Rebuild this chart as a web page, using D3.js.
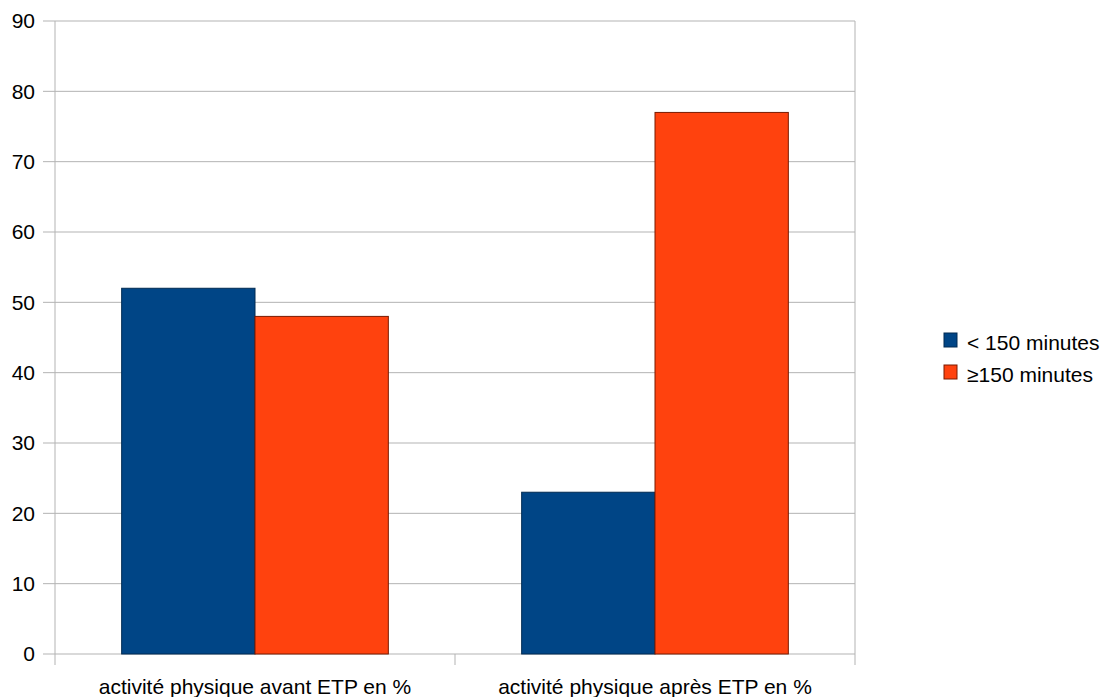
<!DOCTYPE html>
<html>
<head>
<meta charset="utf-8">
<script src="https://cdn.jsdelivr.net/npm/d3@7"></script>
<style>
  body { margin: 0; background: #fff; }
  svg { font-family: "Liberation Sans", Arial, sans-serif; }
</style>
</head>
<body>
<svg id="chart" width="1101" height="697"></svg>
<script>
// données du graphique
const categories = ['activité physique avant ETP en %', 'activité physique après ETP en %'];
const seriesNames = ['< 150 minutes', '≥150 minutes'];
const lessThan150 = [52, 23];
const moreThan150 = [48, 77];
const yTicks = [0, 10, 20, 30, 40, 50, 60, 70, 80, 90];

const colors = ['#004586', '#ff420e'];
const strokes = ['#002a52', '#7a1a00'];

const svg = d3.select('#chart');
const margin = { left: 55, right: 246, top: 21, bottom: 43 };
const width = 1101 - margin.left - margin.right;
const height = 697 - margin.top - margin.bottom;

const g = svg.append('g').attr('transform', `translate(${margin.left},${margin.top})`);

const x0 = d3.scaleBand().domain(categories).range([0, width]).paddingInner(0).paddingOuter(0);
const x1 = d3.scaleBand().domain(seriesNames).range([0, x0.bandwidth()]).paddingInner(0).paddingOuter(0.5);
const y = d3.scaleLinear().domain([0, 90]).range([height, 0]);

// grille
g.append('g').selectAll('line')
  .data(yTicks)
  .join('line')
  .attr('x1', -12).attr('x2', width)
  .attr('y1', d => y(d)).attr('y2', d => y(d))
  .attr('stroke', '#b3b3b3').attr('stroke-width', 1);

// cadre
g.append('line').attr('x1', 0).attr('x2', 0).attr('y1', 0).attr('y2', height + 11)
  .attr('stroke', '#b3b3b3');
g.append('line').attr('x1', width).attr('x2', width).attr('y1', 0).attr('y2', height + 11)
  .attr('stroke', '#b3b3b3');
g.append('line').attr('x1', x0.bandwidth()).attr('x2', x0.bandwidth()).attr('y1', height).attr('y2', height + 11)
  .attr('stroke', '#b3b3b3');

// étiquettes axe y
g.append('g').selectAll('text')
  .data(yTicks)
  .join('text')
  .attr('x', -20)
  .attr('y', d => y(d))
  .attr('dy', '0.35em')
  .attr('text-anchor', 'end')
  .attr('font-size', '21px')
  .attr('fill', '#000')
  .text(d => d);

// barres
const values = [lessThan150, moreThan150];
const bars = [];
categories.forEach((c, i) => {
  seriesNames.forEach((s, j) => {
    bars.push({ cat: c, series: s, idx: j, value: values[j][i] });
  });
});

g.append('g').selectAll('rect')
  .data(bars)
  .join('rect')
  .attr('x', d => x0(d.cat) + x1(d.series))
  .attr('y', d => y(d.value))
  .attr('width', x1.bandwidth())
  .attr('height', d => height - y(d.value))
  .attr('fill', d => colors[d.idx])
  .attr('stroke', d => strokes[d.idx])
  .attr('stroke-width', 1);

// étiquettes catégories
g.append('g').selectAll('text')
  .data(categories)
  .join('text')
  .attr('x', d => x0(d) + x0.bandwidth() / 2)
  .attr('y', height + 40)
  .attr('text-anchor', 'middle')
  .attr('font-size', '21px')
  .attr('fill', '#000')
  .text(d => d);

// légende
const legend = svg.append('g').attr('transform', 'translate(944,333)');
seriesNames.forEach((s, j) => {
  const row = legend.append('g').attr('transform', `translate(0,${j * 32})`);
  row.append('rect')
    .attr('width', 13).attr('height', 14)
    .attr('fill', colors[j])
    .attr('stroke', strokes[j]);
  row.append('text')
    .attr('x', 23).attr('y', 10)
    .attr('dy', '0.35em')
    .attr('font-size', '21px')
    .attr('fill', '#000')
    .text(s);
});
</script>
</body>
</html>
